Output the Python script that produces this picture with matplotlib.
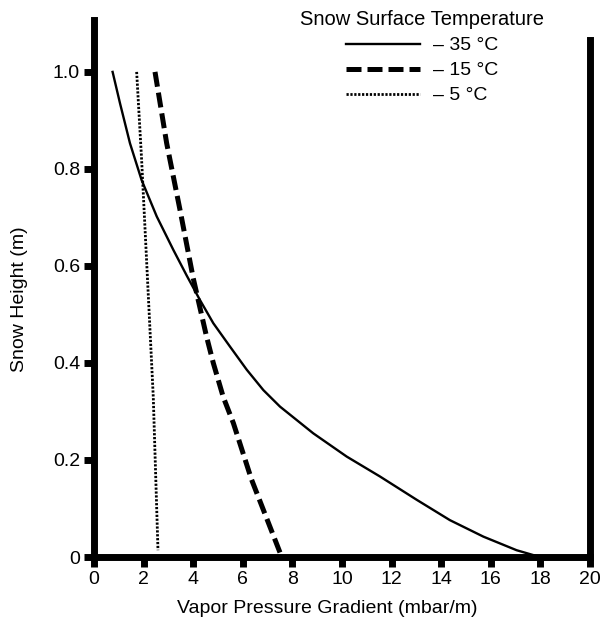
import numpy as np
import matplotlib.pyplot as plt

plt.rcParams['font.family'] = ['Liberation Sans', 'DejaVu Sans']

# -35 C, solid
x35 = [0.75, 1.05, 1.45, 1.92, 2.53, 3.2, 3.74, 4.27, 4.81, 5.48, 6.16, 6.83, 7.5, 8.84,
       10.19, 11.53, 13.01, 14.35, 15.7, 17.04, 17.71, 18.05]
y35 = [1.0, 0.935, 0.853, 0.777, 0.702, 0.633, 0.58, 0.53, 0.482, 0.434, 0.386, 0.344, 0.31, 0.255,
       0.207, 0.166, 0.118, 0.076, 0.042, 0.014, 0.004, 0.0]
# -15 C, dashed
x15 = [2.46, 2.93, 3.47, 4.0, 4.54, 4.81, 5.21, 5.62, 6.35, 7.57]
y15 = [1.0, 0.853, 0.715, 0.575, 0.454, 0.4, 0.33, 0.276, 0.16, 0.0]
# -5 C, dotted
x5 = [1.72, 1.92, 2.12, 2.39, 2.58]
y5 = [1.0, 0.819, 0.612, 0.33, 0.014]

xticks = np.arange(0, 21, 2)
yticks = [0, 0.2, 0.4, 0.6, 0.8, 1.0]
ytick_labels = ['0', '0.2', '0.4', '0.6', '0.8', '1.0']

fig = plt.figure(figsize=(6.02, 6.32), dpi=100)
ax = fig.add_axes([94/602, 1-557/632, 496/602, 537/632])

ax.plot(x35, y35, color='black', lw=1.7, label='\u2013 35 °C')
ax.plot(x15, y15, color='black', lw=3.6, dashes=(3.0, 1.2), label='\u2013 15 °C')
ax.plot(x5, y5, color='black', lw=2.0, dashes=(0.8, 0.6), label='\u2013 5 °C')

ax.set_xlim(0, 20)
ax.set_ylim(0, 1.107)
ax.spines['top'].set_visible(False)
for s in ['left', 'bottom', 'right']:
    ax.spines[s].set_linewidth(5)
ax.spines['right'].set_bounds(0, 1.066)

ax.set_xticks(xticks)
ax.set_yticks(yticks)
ax.set_yticklabels(ytick_labels)
ax.tick_params(axis='both', direction='out', length=7, width=5, labelsize=14, pad=3)

ax.set_xlabel('Vapor Pressure Gradient (mbar/m)', fontsize=14)
ax.set_ylabel('Snow Height (m)', fontsize=14)
ax.xaxis.set_label_coords(0.47, -0.081)
ax.yaxis.set_label_coords(-0.133, 0.48)

leg = fig.legend(loc='upper center', bbox_to_anchor=(422/602, 1.005), frameon=False,
                 title='Snow Surface Temperature', fontsize=14, title_fontsize=14.5,
                 handlelength=3.8, handletextpad=0.7, labelspacing=0.38, borderpad=0.2)

fig.savefig('out.png', dpi=100)
